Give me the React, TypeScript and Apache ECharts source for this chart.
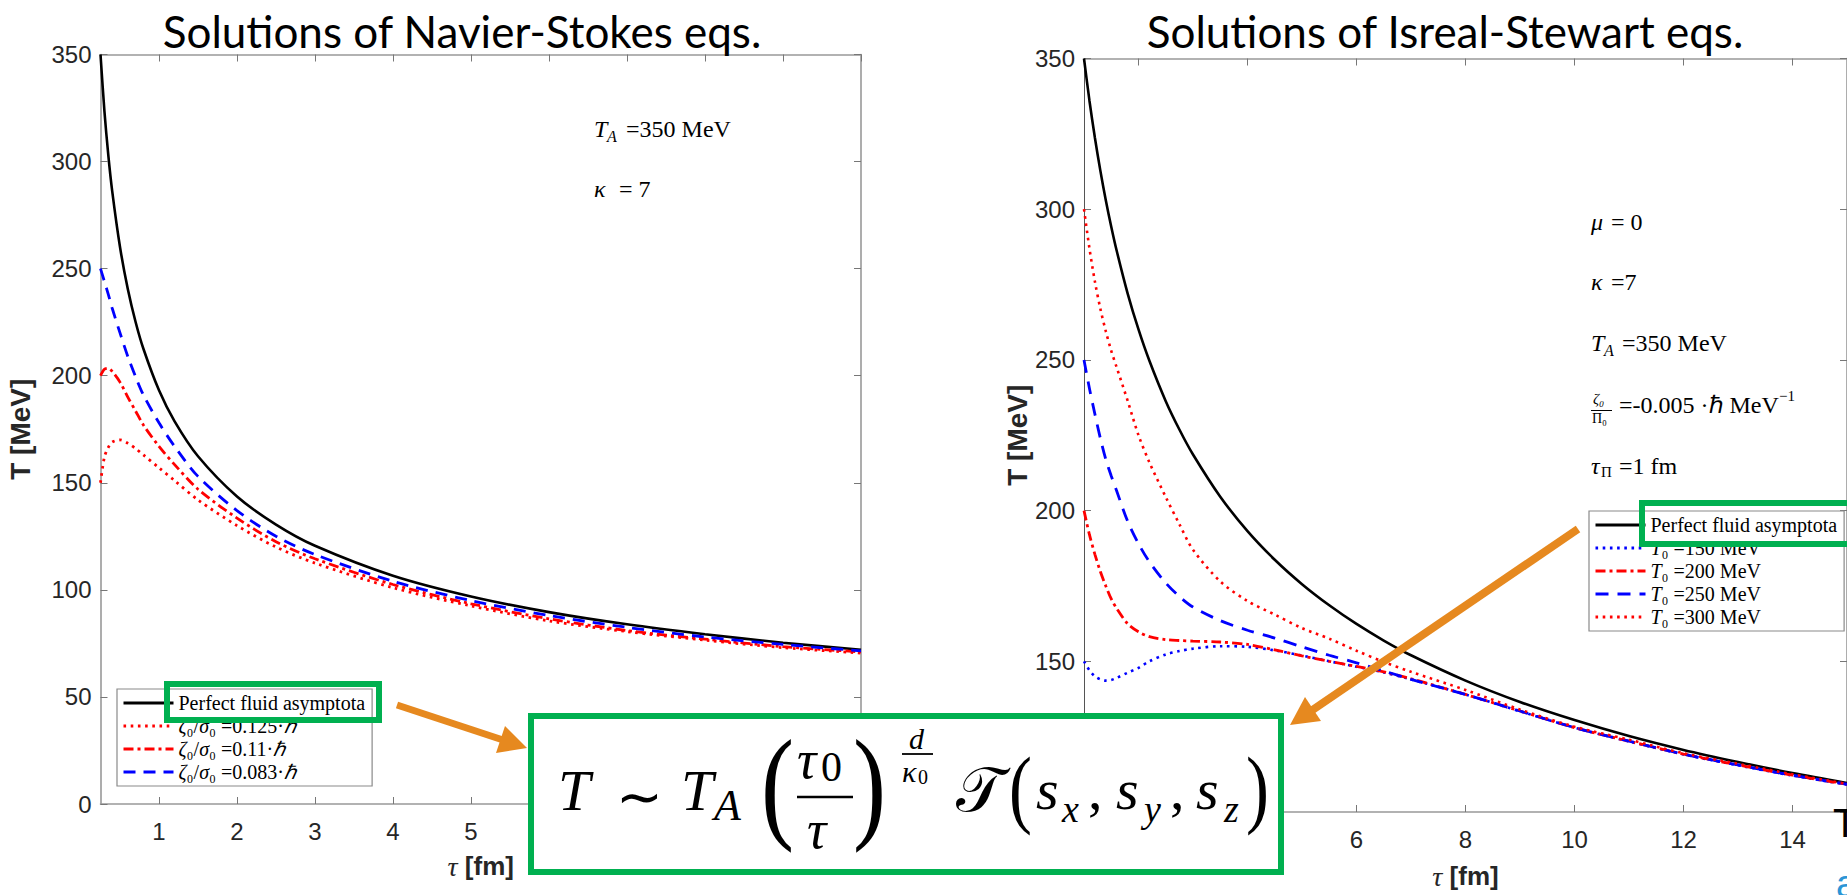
import React, { useEffect, useRef } from 'react';
import * as echarts from 'echarts';

const W = 1847;
const H = 895;

// ---------- Left panel: Navier-Stokes ----------
const tauNS = [0.25, 0.3, 0.35, 0.4, 0.5, 0.6, 0.7, 0.8, 1, 1.2, 1.5, 2, 2.5, 3, 4, 5, 6, 7, 8, 9, 10];
const nsPerfect = [350, 323.7, 303.0, 286.2, 260.1, 240.5, 225.1, 212.6, 193.2, 178.7, 162.4, 143.6, 130.5, 120.6, 106.6, 96.9, 89.6, 83.9, 79.3, 75.3, 72.0];
const ns0125 = [150, 162, 166.5, 169, 170, 168.5, 166, 163, 157, 151, 142, 130, 120, 112.5, 101, 92.5, 85.5, 80.5, 76.5, 73, 70.5];
const ns011 = [200, 203, 203.5, 202, 197, 190, 183.5, 177, 167, 158.5, 147, 133.5, 122.5, 114.5, 102.5, 93.5, 86.5, 81, 77, 73.5, 71];
const ns0083 = [250, 244, 238, 231.5, 220, 209, 199.5, 191, 178, 167, 153, 137, 125, 116.5, 104, 95, 88, 82.5, 78, 74.5, 71.5];
const nsNames = ['Perfect fluid asymptota', 'ζ₀/σ₀ =0.125·ℏ', 'ζ₀/σ₀ =0.11·ℏ', 'ζ₀/σ₀ =0.083·ℏ'];
const nsXTicks = [1, 2, 3, 4, 5, 6, 7, 8, 9, 10];
const nsXLabels = [1, 2, 3, 4, 5];

// ---------- Right panel: Israel-Stewart ----------
const tauIS = [1, 1.1, 1.2, 1.3, 1.4, 1.5, 1.6, 1.8, 2, 2.2, 2.5, 2.75, 3, 3.5, 4, 4.5, 5, 5.5, 6, 6.5, 7, 8, 9, 10, 11, 12, 13, 14, 15];
const isPerfect = [350, 336.0, 323.7, 312.8, 303.0, 294.2, 286.2, 272.1, 260.1, 249.7, 236.3, 226.9, 218.6, 204.6, 193.2, 183.7, 175.6, 168.6, 162.4, 156.9, 152.0, 143.6, 136.5, 130.5, 125.2, 120.6, 116.6, 112.9, 109.6];
const is150 = [150, 147, 145, 144, 143.6, 143.8, 144.5, 146.2, 147.8, 150, 152.3, 153.4, 154.2, 155, 154.8, 153.6, 151.9, 150, 148.2, 146.3, 144, 139, 133.4, 128, 123.4, 119.1, 115.5, 112.1, 109.1];
const is200 = [200, 192, 185.5, 179.8, 175, 170.7, 167.5, 162.5, 159.8, 158.2, 157.2, 156.9, 156.7, 156.4, 155.6, 153.8, 151.8, 150, 148.3, 146.5, 144.2, 139, 133.5, 128, 123.5, 119.2, 115.6, 112.2, 109.2];
const is250 = [250, 240.5, 232, 224, 217, 211.5, 206.5, 196.5, 189, 183, 176, 171.5, 168, 163.5, 160.3, 157.7, 154.8, 152, 149.5, 146.8, 144, 139, 133.5, 128, 123.5, 119.2, 115.6, 112.2, 109.2];
const is300 = [300, 287, 276, 267, 259.5, 253, 247.5, 236.5, 225, 216, 204.5, 195.5, 187, 176.5, 170, 165.5, 161, 157.5, 153.5, 149.8, 146.5, 140.5, 134, 128.3, 124, 119.5, 116, 112.5, 109.3];
const isNames = ['Perfect fluid asymptota', 'T₀ =150 MeV', 'T₀ =200 MeV', 'T₀ =250 MeV', 'T₀ =300 MeV'];
const isXTicks = [2, 4, 6, 8, 10, 12, 14];
const isXLabels = [6, 8, 10, 12, 14];

const RED = '#ff0000';
const BLUE = '#0000ff';
const GREEN = '#00b050';
const ORANGE = '#e6891f';
const SERIF = 'Liberation Serif';
const SANS = 'Liberation Sans';

function line(name: string, xs: number[], ys: number[], color: string, width: number, type: any, axis: number) {
  return {
    name,
    type: 'line',
    xAxisIndex: axis === 0 ? 0 : 2,
    yAxisIndex: axis === 0 ? 0 : 2,
    data: xs.map((x, i) => [x, ys[i]]),
    symbol: 'none',
    smooth: 0.3,
    clip: true,
    lineStyle: { color, width, type, cap: 'butt' },
    itemStyle: { color },
    emphasis: { disabled: true },
  };
}

function txt(x: number, y: number, text: string, size: number, extra: any = {}) {
  const { scaleX, ...style } = extra;
  const el: any = {
    type: 'text',
    x,
    y,
    z: 120,
    style: {
      text,
      fontSize: size,
      fontFamily: SERIF,
      fill: '#000',
      align: 'left',
      verticalAlign: 'middle',
      ...style,
    },
  };
  if (scaleX) el.scaleX = scaleX;
  return el;
}
const it = { fontStyle: 'italic' };

function axisCommon(color: string, width: number) {
  return {
    axisLine: { show: true, onZero: false, lineStyle: { color, width } },
    splitLine: { show: false },
  };
}

// italicise the math variables in legend entries
function legendFormatter(name: string) {
  return name.replace(/([ζσℏ]|T(?=₀))/g, '{i|$1}');
}

const tickLabel = { fontSize: 24, fontFamily: SANS, color: '#262626' };
const nameStyle = {
  fontSize: 26,
  fontFamily: SANS,
  fontWeight: 'bold',
  color: '#262626',
  rich: { t: { fontSize: 28, fontFamily: SERIF, fontStyle: 'italic', fontWeight: 'normal', color: '#262626' } },
};
const yNameStyle = { fontSize: 28, fontFamily: SANS, fontWeight: 'bold', color: '#262626' };

function buildOption(): any {
  const legendBase = {
    orient: 'vertical',
    itemWidth: 50,
    itemHeight: 14,
    itemGap: 3,
    padding: [4, 7, 4, 5],
    borderColor: '#8a8a8a',
    borderWidth: 1.2,
    borderRadius: 0,
    backgroundColor: '#ffffff',
    selectedMode: false,
    itemStyle: { opacity: 0 },
    lineStyle: { width: 3 },
    formatter: legendFormatter,
    textStyle: {
      fontFamily: SERIF,
      fontSize: 20,
      color: '#000',
      lineHeight: 20,
      rich: { i: { fontFamily: SERIF, fontSize: 20, fontStyle: 'italic', color: '#000', lineHeight: 20 } },
    },
    z: 10,
  };

  const graphics: any[] = [
    // titles
    txt(462, 31, 'Solutions of Navier-Stokes eqs.', 44, { fontFamily: 'Lato', align: 'center' }),
    txt(1445, 31, 'Solutions of Isreal-Stewart eqs.', 44, { fontFamily: 'Lato', align: 'center' }),

    // left annotations
    txt(594, 129, 'T', 24, it),
    txt(607, 136, 'A', 16, it),
    txt(626, 129, '=350 MeV', 24),
    txt(594, 189, 'κ', 24, it),
    txt(619, 189, '= 7', 24),

    // right annotations
    txt(1591, 222, 'μ', 24, it),
    txt(1611, 222, '= 0', 24),
    txt(1591, 282, 'κ', 24, it),
    txt(1611, 282, '=7', 24),
    txt(1591, 343, 'T', 24, it),
    txt(1604, 350, 'A', 16, it),
    txt(1622, 343, '=350 MeV', 24),
    txt(1593, 399, 'ζ₀', 15, it),
    { type: 'line', z: 120, shape: { x1: 1591, y1: 410.5, x2: 1612, y2: 410.5 }, style: { stroke: '#000', lineWidth: 1 } },
    txt(1592, 418, 'Π₀', 14),
    txt(1619, 405, '=-0.005 ·ℏ MeV', 24),
    txt(1779, 396, '−1', 15),
    txt(1591, 466, 'τ', 24, it),
    txt(1601, 472, 'Π', 15),
    txt(1619, 466, '=1 fm', 24),

    // small green highlight boxes
    { type: 'rect', z: 110, shape: { x: 167, y: 684, width: 212, height: 36 }, style: { fill: 'none', stroke: GREEN, lineWidth: 6 } },
    { type: 'rect', z: 110, shape: { x: 1642, y: 503, width: 240, height: 41 }, style: { fill: 'none', stroke: GREEN, lineWidth: 6 } },

    // big formula box
    { type: 'rect', z: 110, shape: { x: 531, y: 716, width: 750, height: 156 }, style: { fill: '#ffffff', stroke: GREEN, lineWidth: 6 } },

    // formula  T ~ T_A (tau0/tau)^(d/kappa0) T(sx, sy, sz)
    txt(558, 790, 'T', 58, it),
    txt(616, 796, '∼', 56, { fontFamily: 'DejaVu Sans' }),
    txt(681, 790, 'T', 58, it),
    txt(714, 805, 'A', 44, it),
    txt(761, 784, '(', 124, { scaleX: 0.8 }),
    txt(797, 760, 'τ', 54, it),
    txt(821, 767, '0', 42),
    { type: 'line', z: 120, shape: { x1: 797, y1: 797, x2: 853, y2: 797 }, style: { stroke: '#000', lineWidth: 2.5 } },
    txt(807, 830, 'τ', 54, it),
    txt(853, 784, ')', 124, { scaleX: 0.8 }),
    txt(909, 738, 'd', 30, it),
    { type: 'line', z: 120, shape: { x1: 902, y1: 754, x2: 933, y2: 754 }, style: { stroke: '#000', lineWidth: 1.8 } },
    txt(902, 771, 'κ', 30, it),
    txt(918, 777, '0', 20),
    txt(956, 790, '𝒯', 62),
    txt(1009, 788, '(', 86, { scaleX: 0.8 }),
    txt(1036, 789, 's', 58, it),
    txt(1062, 809, 'x', 38, it),
    txt(1088, 789, ',', 58),
    txt(1116, 789, 's', 58, it),
    txt(1144, 809, 'y', 38, it),
    txt(1170, 789, ',', 58),
    txt(1196, 789, 's', 58, it),
    txt(1224, 809, 'z', 38, it),
    txt(1246, 788, ')', 86, { scaleX: 0.8 }),

    // arrows
    { type: 'line', z: 130, shape: { x1: 397, y1: 705, x2: 503, y2: 740 }, style: { stroke: ORANGE, lineWidth: 7 } },
    { type: 'polygon', z: 130, shape: { points: [[527, 748], [496, 753], [505, 726]] }, style: { fill: ORANGE } },
    { type: 'line', z: 130, shape: { x1: 1578, y1: 529, x2: 1311, y2: 711 }, style: { stroke: ORANGE, lineWidth: 8 } },
    { type: 'polygon', z: 130, shape: { points: [[1290, 725], [1321, 721], [1305, 697]] }, style: { fill: ORANGE } },

    // slide fragments at the right edge
    txt(1833, 823, 'T', 40, { fontFamily: SANS }),
    txt(1836, 884, 'a', 38, { fontFamily: SANS, fill: '#2b95d6' }),
  ];

  return {
    animation: false,
    backgroundColor: '#ffffff',
    grid: [
      { left: 100.5, top: 54.5, right: W - 861, bottom: H - 804 },
      { left: 1084, top: 58.5, right: -15, bottom: H - 813.5 },
    ],
    xAxis: [
      {
        type: 'value', gridIndex: 0, position: 'bottom', min: 0.25, max: 10,
        ...axisCommon('#999', 1.6),
        axisTick: { show: true, inside: true, length: 7, customValues: nsXTicks, lineStyle: { color: '#777' } },
        axisLabel: { ...tickLabel, margin: 15, customValues: nsXLabels },
        name: '{t|τ} [fm]', nameLocation: 'middle', nameGap: 48, nameTextStyle: nameStyle,
      },
      {
        type: 'value', gridIndex: 0, position: 'top', min: 0.25, max: 10,
        ...axisCommon('#999', 1.6),
        axisTick: { show: true, inside: true, length: 7, customValues: nsXTicks, lineStyle: { color: '#777' } },
        axisLabel: { show: false },
      },
      {
        type: 'value', gridIndex: 1, position: 'bottom', min: 1, max: 15,
        ...axisCommon('#999', 1.6),
        axisTick: { show: true, inside: true, length: 7, customValues: isXTicks, lineStyle: { color: '#777' } },
        axisLabel: { ...tickLabel, margin: 15, customValues: isXLabels },
        name: '{t|τ} [fm]', nameLocation: 'middle', nameGap: 50, nameTextStyle: nameStyle,
      },
      {
        type: 'value', gridIndex: 1, position: 'top', min: 1, max: 15,
        ...axisCommon('#999', 1.6),
        axisTick: { show: true, inside: true, length: 7, customValues: isXTicks, lineStyle: { color: '#777' } },
        axisLabel: { show: false },
      },
    ],
    yAxis: [
      {
        type: 'value', gridIndex: 0, position: 'left', min: 0, max: 350, interval: 50,
        ...axisCommon('#999', 1.6),
        axisTick: { show: true, inside: true, length: 7, lineStyle: { color: '#777' } },
        axisLabel: { ...tickLabel, margin: 9 },
        name: 'T [MeV]', nameLocation: 'middle', nameGap: 66, nameRotate: 90, nameTextStyle: yNameStyle,
      },
      {
        type: 'value', gridIndex: 0, position: 'right', min: 0, max: 350, interval: 50,
        ...axisCommon('#999', 1.6),
        axisTick: { show: true, inside: true, length: 7, lineStyle: { color: '#777' } },
        axisLabel: { show: false },
      },
      {
        type: 'value', gridIndex: 1, position: 'left', min: 100, max: 350, interval: 50,
        ...axisCommon('#555', 1),
        axisTick: { show: true, inside: true, length: 7, lineStyle: { color: '#777' } },
        axisLabel: { ...tickLabel, margin: 9, showMinLabel: false },
        name: 'T [MeV]', nameLocation: 'middle', nameGap: 50, nameRotate: 90, nameTextStyle: yNameStyle,
      },
      {
        type: 'value', gridIndex: 1, position: 'right', min: 100, max: 350, interval: 50,
        ...axisCommon('#999', 1.6),
        axisTick: { show: true, inside: true, length: 7, lineStyle: { color: '#777' } },
        axisLabel: { show: false },
      },
    ],
    legend: [
      { ...legendBase, data: nsNames, left: 117, top: 689 },
      { ...legendBase, data: isNames, left: 1589, top: 511 },
    ],
    series: [
      line(nsNames[0], tauNS, nsPerfect, '#000000', 2.6, 'solid', 0),
      line(nsNames[1], tauNS, ns0125, RED, 2.8, [2.6, 4.6], 0),
      line(nsNames[2], tauNS, ns011, RED, 2.8, [10, 4, 3, 4], 0),
      line(nsNames[3], tauNS, ns0083, BLUE, 2.8, [12, 8], 0),
      line(isNames[0], tauIS, isPerfect, '#000000', 2.6, 'solid', 1),
      line(isNames[1], tauIS, is150, BLUE, 2.6, [2.6, 4.6], 1),
      line(isNames[2], tauIS, is200, RED, 2.8, [10, 4, 3, 4], 1),
      line(isNames[3], tauIS, is250, BLUE, 2.8, [13, 9], 1),
      line(isNames[4], tauIS, is300, RED, 2.6, [2.6, 4.6], 1),
    ],
    graphic: { z: 100, elements: graphics },
  };
}

export default function App() {
  const ref = useRef<HTMLDivElement>(null);
  useEffect(() => {
    if (!ref.current) return;
    const chart = echarts.init(ref.current, null, { renderer: 'svg' });
    chart.setOption(buildOption());
    return () => chart.dispose();
  }, []);
  return (
    <div
      ref={ref}
      style={{ position: 'absolute', left: 0, top: 0, width: W, height: H, background: '#fff', overflow: 'hidden' }}
    />
  );
}
